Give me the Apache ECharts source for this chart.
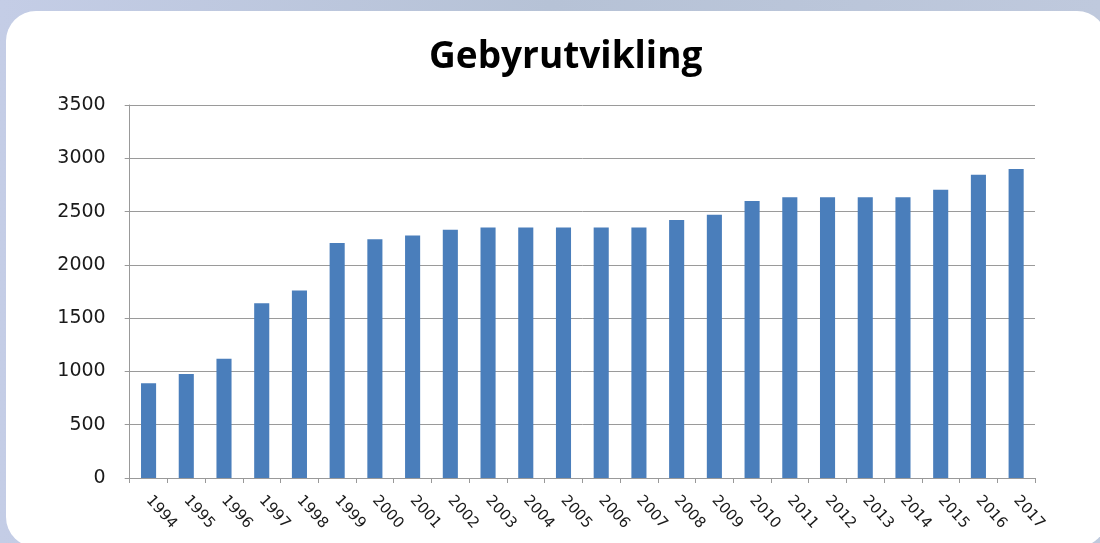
<!DOCTYPE html>
<html>
<head>
<meta charset="utf-8">
<script src="https://cdn.jsdelivr.net/npm/echarts@6/dist/echarts.min.js"></script>
<style>
html,body{margin:0;padding:0;width:1100px;height:543px;overflow:hidden;}
#c{width:1100px;height:543px;}
</style>
</head>
<body>
<div id="c"></div>
<script>
const titleText = "Gebyrutvikling";
const years = ["1994","1995","1996","1997","1998","1999","2000","2001","2002","2003","2004","2005","2006","2007","2008","2009","2010","2011","2012","2013","2014","2015","2016","2017"];
const fees = [890, 975, 1120, 1640, 1760, 2205, 2240, 2275, 2330, 2350, 2350, 2350, 2350, 2350, 2420, 2470, 2600, 2635, 2635, 2635, 2635, 2705, 2845, 2900];

const chart = echarts.init(document.getElementById('c'), null, {renderer:'canvas'});
chart.setOption({
  animation: false,
  backgroundColor: 'transparent',
  graphic: [
    {type:'rect', z:-10, silent:true, shape:{x:0,y:0,width:1100,height:543},
     style:{fill:new echarts.graphic.LinearGradient(0,0,1,0,[
       {offset:0,color:'#c4cde6'},{offset:0.5,color:'#b6c2d6'},{offset:1,color:'#bfc9dd'}])}},
    {type:'rect', z:-9, silent:true, shape:{x:6,y:11,width:1101,height:536,r:30},
     style:{fill:'#ffffff'}}
  ],
  title: {
    text: titleText, left: 424, top: 34,
    textStyle: {fontFamily:'Open Sans', fontWeight:'bold', fontSize:37, color:'#000'}
  },
  grid: {left:129.7, right:65, top:105, bottom:65, containLabel:false},
  xAxis: {
    type:'category', data: years, boundaryGap:true,
    axisLine:{show:true, lineStyle:{color:'#999', width:1}},
    axisTick:{show:true, alignWithLabel:false, length:5, lineStyle:{color:'#999'}},
    axisLabel:{rotate:-48, margin:20, interval:0, fontFamily:'DejaVu Sans', fontSize:15, color:'#1a1a1a'},
    splitLine:{show:false}
  },
  yAxis: {
    type:'value', min:0, max:3500, interval:500,
    axisLine:{show:true, lineStyle:{color:'#999', width:1}},
    axisTick:{show:true, length:5, lineStyle:{color:'#999'}},
    axisLabel:{margin:24, fontFamily:'DejaVu Sans', fontSize:19, color:'#1a1a1a', formatter: v => String(v)},
    splitLine:{show:true, lineStyle:{color:'#9a9a9a', width:1}}
  },
  series: [{
    type:'bar', data: fees, barWidth:'40%',
    itemStyle:{color:'#4a7ebb'}
  }]
});
</script>
</body>
</html>
